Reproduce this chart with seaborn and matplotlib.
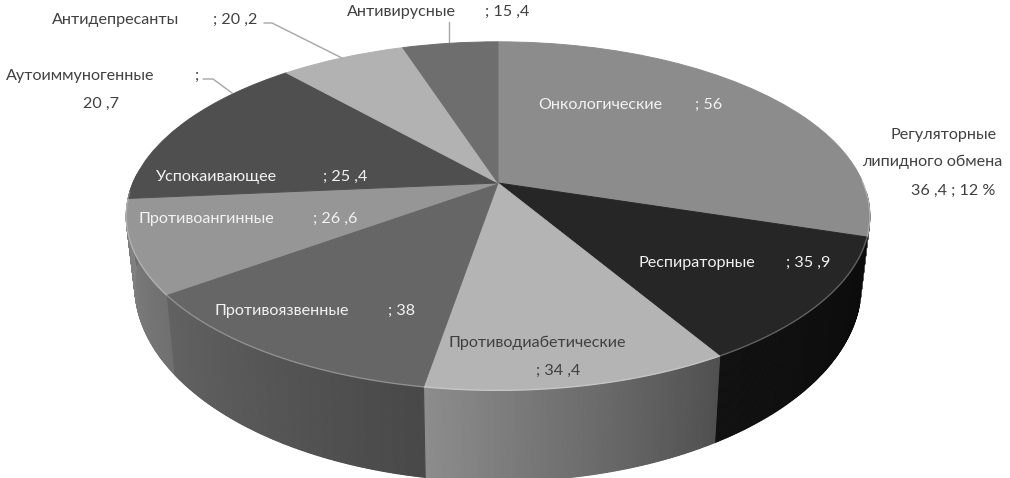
import numpy as np
import matplotlib
matplotlib.use("Agg")
import matplotlib.pyplot as plt
from matplotlib.collections import PolyCollection
from matplotlib.transforms import Transform
import seaborn as sns

categories = ["Онкологические", "Регуляторные", "Респираторные", "Противодиабетические",
              "Противоязвенные", "Противоангинные", "Успокаивающее", "Аутоиммуногенные",
              "Антидепресанты", "Антивирусные"]
values = [56, 36.4, 35.9, 34.4, 38, 26.6, 25.4, 20.7, 20.2, 15.4]
top_colors = ["#8c8c8c", "#8c8c8c", "#262626", "#b4b4b4", "#666666",
              "#969696", "#4f4f4f", "#4f4f4f", "#b2b2b2", "#6e6e6e"]
# side shading: (colour at the clockwise start, colour at the clockwise end)
side_colors = [("#6a6a6a", "#6a6a6a"), ("#5a5a5a", "#5a5a5a"), ("#0b0b0b", "#111111"),
               ("#505050", "#8c8c8c"), ("#484848", "#626262"), ("#707070", "#828282"),
               ("#6c6c6c", "#6c6c6c"), ("#444444", "#444444"), ("#888888", "#888888"),
               ("#555555", "#555555")]

sns.set_theme(style="white")
plt.rcParams["font.family"] = ["Lato", "DejaVu Sans"]

CX, CY = 498.0, 183.0
K, A, B = 0.19, 168.0, 365.0


def project(x, y):
    w = 1 + K * y
    return CX + B * x / w, CY - A * y / w


def lower(px, py):
    rel_x, rel_y = px - CX, py - CY
    return CX + 0.977 * rel_x, CY + rel_y + 65 + 0.125 * rel_y


class Perspective(Transform):
    input_dims = output_dims = 2
    is_affine = False
    has_inverse = False

    def transform_non_affine(self, xy):
        xy = np.asarray(xy, dtype=float)
        px, py = project(xy[:, 0], xy[:, 1])
        return np.column_stack([px, py])


fig = plt.figure(figsize=(10.10, 4.78), dpi=100, facecolor="white")
ax = fig.add_axes([0, 0, 1, 1])

wedges, _ = ax.pie(values, startangle=90, counterclock=False, colors=top_colors,
                   wedgeprops={"linewidth": 0.7})
ax.set_aspect("auto")
ax.set_xlim(0, 1010)
ax.set_ylim(478, 0)
ax.axis("off")

persp = Perspective() + ax.transData
for w, c in zip(wedges, top_colors):
    w.set_transform(persp)
    w.set_edgecolor(c)
    w.set_zorder(3)

# Side wall
bounds = np.concatenate([[0], np.cumsum(values)]) / np.sum(values) * 360
VIS_FROM, VIS_TO = 93.0, 273.0
for i in range(len(values)):
    lo, hi = max(bounds[i], VIS_FROM), min(bounds[i + 1], VIS_TO)
    if hi <= lo:
        continue
    n = max(2, int((hi - lo) * 3))
    bear = np.radians(np.linspace(lo, hi, n + 1))
    tx, ty = project(np.sin(bear), np.cos(bear))
    bx, by = lower(tx, ty)
    pal = sns.blend_palette(list(side_colors[i]), n)
    polys = [[(tx[j], ty[j]), (tx[j + 1], ty[j + 1]), (bx[j + 1], by[j + 1]), (bx[j], by[j])]
             for j in range(n)]
    ax.add_collection(PolyCollection(polys, facecolors=pal, edgecolors=pal,
                                     linewidths=0.8, zorder=2))

# Light rim on the front edge
rim = np.radians(np.linspace(bounds[3] - 60, VIS_TO - 6, 300))
rx, ry = project(np.sin(rim), np.cos(rim))
ax.plot(rx, ry, color="white", alpha=0.28, lw=1.0, zorder=4)

# Leader lines
LEAD = "#a6a6a6"
ax.plot([264, 272, 342], [23, 23, 58], color=LEAD, lw=1, zorder=1)
ax.plot([203, 213, 232], [79, 79, 93], color=LEAD, lw=1, zorder=1)
ax.plot([449, 449], [22, 43], color=LEAD, lw=1, zorder=1)

DARK, LIGHT = "#404040", "#f2f2f2"
FS = 11.6


def label(x, y, s, color=DARK, ha="left"):
    ax.text(x, y + 1, s, color=color, fontsize=FS, ha=ha, va="center", zorder=5)


label(52, 19, categories[8]); label(213, 19, "; 20 ,2")
label(347, 11, categories[9]); label(485, 11, "; 15 ,4")
label(6, 75, categories[7]); label(195, 75, ";"); label(83, 103, "20 ,7")
label(538, 104, categories[0], LIGHT); label(695, 104, "; 56", LIGHT)
label(890, 134, categories[1]); label(862, 161, "липидного обмена")
label(911, 190, "36 ,4 ; 12 %")
label(638, 262, categories[2], LIGHT); label(786, 262, "; 35 ,9", LIGHT)
label(449, 342, categories[3]); label(536, 370, "; 34 ,4")
label(214, 310, categories[4], LIGHT); label(388, 310, "; 38", LIGHT)
label(139, 218, categories[5], LIGHT); label(313, 218, "; 26 ,6", LIGHT)
label(156, 176, categories[6], LIGHT); label(323, 176, "; 25 ,4", LIGHT)

fig.savefig("out.png", dpi=100, facecolor="white")
